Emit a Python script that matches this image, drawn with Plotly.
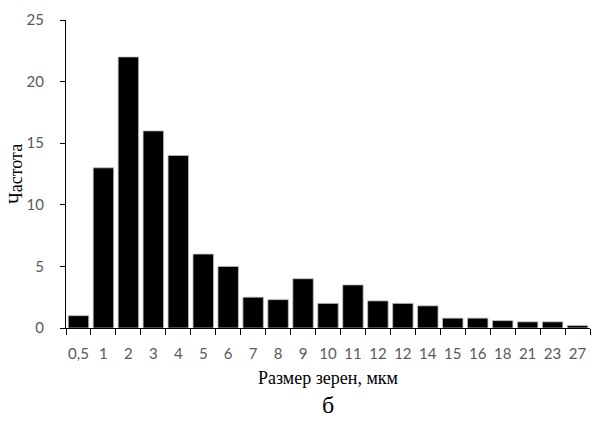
import plotly.graph_objects as go

categories = ["0,5", "1", "2", "3", "4", "5", "6", "7", "8", "9", "10", "11",
              "12", "12", "14", "15", "16", "18", "21", "23", "27"]
frequency = [1, 13, 22, 16, 14, 6, 5, 2.5, 2.3, 4, 2, 3.5,
             2.2, 2, 1.8, 0.8, 0.8, 0.6, 0.5, 0.5, 0.2]
y_ticks = [0, 5, 10, 15, 20, 25]

positions = list(range(len(categories)))

fig = go.Figure(go.Bar(
    x=positions, y=frequency,
    marker=dict(color="black", line=dict(color="#bfbfbf", width=0.8)),
))

tick_font = dict(family="Lato, Open Sans, sans-serif", size=15, color="#595959")
title_font = dict(family="Liberation Serif, serif", size=18, color="black")

fig.update_layout(
    width=592, height=423,
    margin=dict(l=66, r=2, t=20, b=95),
    plot_bgcolor="white", paper_bgcolor="white",
    bargap=0.18,
    showlegend=False,
    xaxis=dict(
        range=[-0.5, len(categories) - 0.5],
        tickmode="array", tickvals=positions, ticktext=categories,
        ticks="", tickfont=tick_font, ticklabelstandoff=12,
        showline=True, linecolor="black", linewidth=1.2,
        showgrid=False, zeroline=False,
        minor=dict(tickmode="linear", tick0=-0.5, dtick=1, ticks="outside",
                   ticklen=6, tickcolor="black", tickwidth=1.2, showgrid=False),
        title=dict(text="Размер зерен, мкм", font=title_font, standoff=10),
    ),
    yaxis=dict(
        range=[0, 25], tickmode="array", tickvals=y_ticks,
        ticks="outside", ticklen=5, tickcolor="black", tickwidth=1.2,
        tickfont=tick_font, ticklabelstandoff=13,
        showline=True, linecolor="black", linewidth=1.2,
        showgrid=False, zeroline=False,
    ),
    annotations=[
        dict(text="б", xref="paper", yref="paper", x=0.5, y=-0.25,
             yanchor="middle", showarrow=False,
             font=dict(family="Liberation Serif, serif", size=24, color="black")),
        dict(text="Частота", xref="paper", yref="paper", x=0, y=0.5,
             xanchor="center", yanchor="middle", xshift=-50, textangle=-90,
             showarrow=False, font=title_font),
    ],
)

fig.write_html("out.html")
